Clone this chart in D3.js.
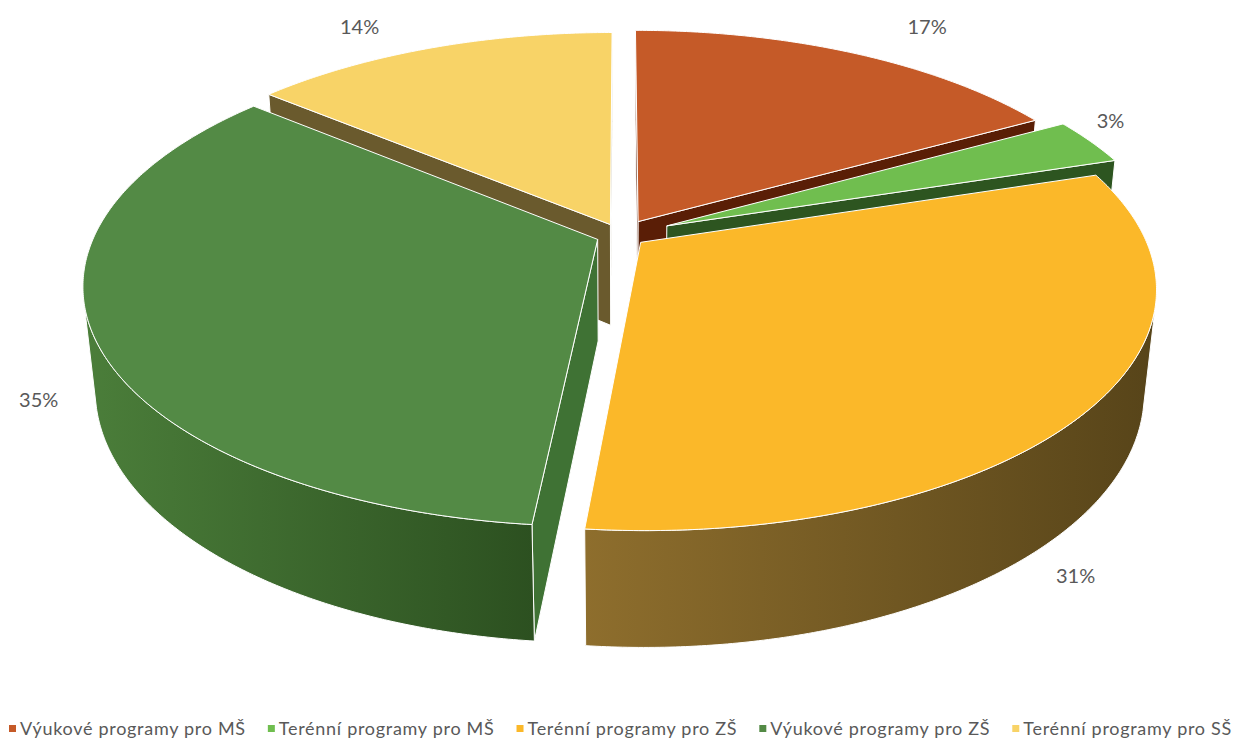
<!DOCTYPE html>
<html>
<head>
<meta charset="utf-8">
<script src="https://cdn.jsdelivr.net/npm/d3@7"></script>
<style>
	body { margin: 0; background: #fff; }
	svg { display: block; }
</style>
</head>
<body>
<svg id="chart"></svg>
<script>
// data (shares in %, labels show rounded values)
const categories = [
	'Výukové programy pro MŠ',
	'Terénní programy pro MŠ',
	'Terénní programy pro ZŠ',
	'Výukové programy pro ZŠ',
	'Terénní programy pro SŠ'
]
const values = [16.9, 3.2, 31.45, 34.5, 13.95]

// styles
const topColors = ['#c55a28', '#70be4f', '#fbb829', '#538a45', '#f8d367']
const faceColors = ['#5a1e06', '#2d5520', '#7a5e22', '#3f7234', '#6a5a2d']
const wallColors = [
	['#7a3312', '#5a1e06'],
	['#3a6a2a', '#2d5520'],
	['#8e6e2d', '#574419'],
	['#4b7e3a', '#2c5020'],
	['#7a6630', '#5e4e25']
]
const explode = [0.068, 0.1, 0.05, 0.05, 0.05]
const labelShift = [[74, -27], [20, -21], [-2, 55], [-67, -43], [-71, -22]]

const width = 1234,
	height = 742,
	cx = 621,
	cy = 235,
	S = 503,
	k = 0.21,
	phi = 27.4 * Math.PI / 180,
	depth = 0.232

const svg = d3.select('#chart').attr('width', width).attr('height', height)
const defs = svg.append('defs')

const sx = d3.scaleLinear().domain([-1, 1]).range([cx - S, cx + S])
const sy = d3.scaleLinear().domain([-1, 1]).range([cy - S, cy + S])

// perspective projection of a point on the tilted disc
function dist(X, Y, Z) {
	return 1 - k * (Y * Math.sin(phi) + Z * Math.cos(phi))
}
function project(X, Y, Z) {
	const d = dist(X, Y, Z)
	return [sx(X / d), sy(-(Y * Math.cos(phi) - Z * Math.sin(phi)) / d)]
}
const cam = [0, Math.sin(phi) / k, Math.cos(phi) / k]
function facing(p, n) {
	return (cam[0] - p[0]) * n[0] + (cam[1] - p[1]) * n[1] + (cam[2] - p[2]) * n[2] > 0
}

const pie = d3.pie().sort(null).value(d => d)
const arcs = pie(values)
const line = d3.line()

const walls = []
const tops = []

arcs.forEach((a, i) => {
	const a0 = a.startAngle,
		a1 = a.endAngle,
		am = (a0 + a1) / 2,
		ox = explode[i] * Math.sin(am),
		oz = -explode[i] * Math.cos(am)
	const w3 = (t, r, Y) => [ox + r * Math.sin(t), Y, oz - r * Math.cos(t)]
	const steps = Math.max(2, Math.ceil((a1 - a0) / (Math.PI / 360)))
	const ts = d3.range(steps + 1).map(j => a0 + (a1 - a0) * j / steps)

	// top face
	const topPts = [w3(0, 0, 0)].concat(ts.map(t => w3(t, 1, 0)))
	tops.push({ i, pts: topPts.map(p => project(...p)), fill: topColors[i] })

	// outer wall, only the part turned to the viewer
	const vis = ts.filter(t => facing(w3(t, 1, -depth / 2), [Math.sin(t), 0, -Math.cos(t)]))
	if (vis.length > 1) {
		const up = vis.map(t => w3(t, 1, 0))
		const down = vis.map(t => w3(t, 1, -depth)).reverse()
		const all = up.concat(down)
		const dAvg = d3.mean(all, p => dist(...p))
		walls.push({ i, pts: all.map(p => project(...p)), wall: true, d: dAvg })
	}

	// radial faces
	;[[a0, [-Math.cos(a0), 0, -Math.sin(a0)]], [a1, [Math.cos(a1), 0, Math.sin(a1)]]].forEach(([t, n]) => {
		if (!facing(w3(t, 0.5, -depth / 2), n)) return
		const q = [w3(t, 0, 0), w3(t, 1, 0), w3(t, 1, -depth), w3(t, 0, -depth)]
		walls.push({ i, pts: q.map(p => project(...p)), fill: faceColors[i], d: d3.mean(q, p => dist(...p)) })
	})

	// label anchor: outer middle of the slice
	const near = Math.cos(am) < 0
	const lp = project(...w3(am, 1, near ? -depth : 0))
	a.label = [lp[0] + labelShift[i][0], lp[1] + labelShift[i][1]]
})

walls.sort((p, q) => q.d - p.d)

walls.forEach((f, n) => {
	let fill = f.fill
	if (f.wall) {
		const xs = d3.extent(f.pts, p => p[0])
		const id = 'wall' + n
		const g = defs.append('linearGradient').attr('id', id)
			.attr('gradientUnits', 'userSpaceOnUse')
			.attr('x1', xs[0]).attr('x2', xs[1]).attr('y1', 0).attr('y2', 0)
		g.append('stop').attr('offset', 0).attr('stop-color', wallColors[f.i][0])
		g.append('stop').attr('offset', 1).attr('stop-color', wallColors[f.i][1])
		fill = 'url(#' + id + ')'
	}
	svg.append('path')
		.attr('d', line(f.pts) + 'Z')
		.attr('fill', fill)
		.attr('stroke', '#fff')
		.attr('stroke-width', 1)
		.attr('stroke-linejoin', 'round')
})

svg.selectAll('path.top')
	.data(tops)
	.enter()
	.append('path')
	.attr('class', 'top')
	.attr('d', d => line(d.pts) + 'Z')
	.attr('fill', d => d.fill)
	.attr('stroke', '#fff')
	.attr('stroke-width', 1)
	.attr('stroke-linejoin', 'round')

svg.selectAll('text.lbl')
	.data(arcs)
	.enter()
	.append('text')
	.attr('class', 'lbl')
	.attr('x', d => d.label[0])
	.attr('y', d => d.label[1])
	.attr('text-anchor', 'middle')
	.attr('dominant-baseline', 'central')
	.attr('font-family', 'Lato, "Open Sans", sans-serif')
	.attr('font-size', 20)
	.attr('fill', '#595959')
	.text(d => Math.round(d.value) + '%')

// legend along the bottom
const legend = svg.append('g')
const items = legend.selectAll('g')
	.data(categories)
	.enter()
	.append('g')
items.append('rect')
	.attr('width', 7)
	.attr('height', 7)
	.attr('y', 725)
	.attr('fill', (d, i) => topColors[i])
const texts = items.append('text')
	.attr('x', 11)
	.attr('y', 735)
	.attr('font-family', 'Lato, "Open Sans", sans-serif')
	.attr('font-size', 18)
	.attr('fill', '#595959')
	.text(d => d)

const gap = 22,
	left = 9,
	right = 1232
let widths = texts.nodes().map(n => n.getComputedTextLength())
const chars = d3.sum(categories, c => c.length)
const spacing = Math.max(0, Math.min(2, (right - left - d3.sum(widths) - categories.length * 11 - gap * 4) / chars))
texts.attr('letter-spacing', spacing)
widths = texts.nodes().map(n => n.getComputedTextLength())
let xPos = left
items.attr('transform', (d, i) => {
	const t = 'translate(' + xPos + ',0)'
	xPos += 11 + widths[i] + gap
	return t
})
</script>
</body>
</html>
